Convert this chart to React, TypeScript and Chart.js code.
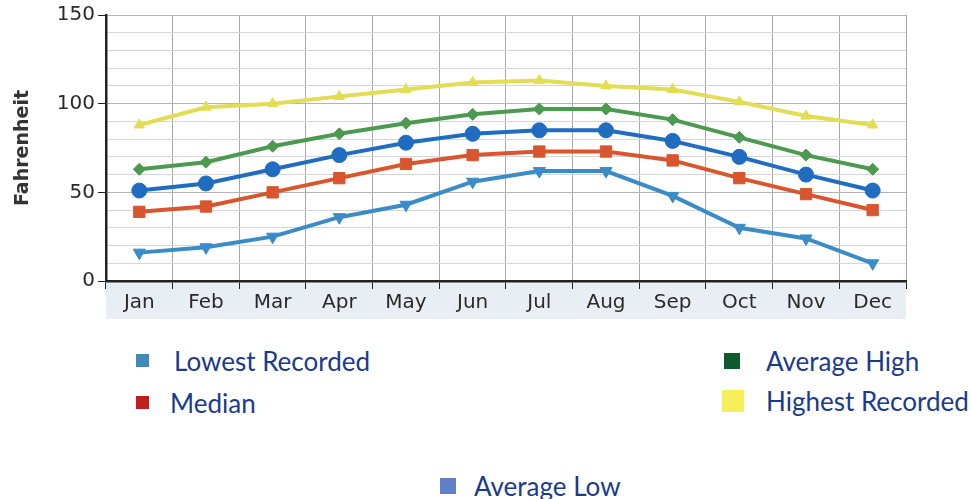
import React, { useEffect, useRef } from "react";
import { Chart, registerables } from "chart.js";

Chart.register(...registerables);

const months = ["Jan", "Feb", "Mar", "Apr", "May", "Jun", "Jul", "Aug", "Sep", "Oct", "Nov", "Dec"];
const highestRecorded = [88, 98, 100, 104, 108, 112, 113, 110, 108, 101, 93, 88];
const averageHigh = [63, 67, 76, 83, 89, 94, 97, 97, 91, 81, 71, 63];
const averageLow = [51, 55, 63, 71, 78, 83, 85, 85, 79, 70, 60, 51];
const median = [39, 42, 50, 58, 66, 71, 73, 73, 68, 58, 49, 40];
const lowestRecorded = [16, 19, 25, 36, 43, 56, 62, 62, 48, 30, 24, 10];
const yTickLabels = [0, 50, 100, 150];

const legendItems = [
  { label: "Lowest Recorded", color: "#3e8ab8", left: 136, top: 354, size: 13, textLeft: 174 },
  { label: "Median", color: "#c0201c", left: 136, top: 396, size: 13, textLeft: 170 },
  { label: "Average High", color: "#0e5a2c", left: 724, top: 353, size: 16, textLeft: 766 },
  { label: "Highest Recorded", color: "#f7ef5a", left: 722, top: 390, size: 22, textLeft: 766 },
  { label: "Average Low", color: "#5d80c6", left: 440, top: 478, size: 16, textLeft: 474 },
];

const bandPlugin = {
  id: "band",
  beforeDraw(chart: any) {
    const { ctx, chartArea } = chart;
    ctx.save();
    ctx.fillStyle = "#e9eef5";
    ctx.fillRect(chartArea.left, chartArea.bottom, chartArea.right - chartArea.left, 38);
    ctx.fillStyle = "#ffffff";
    ctx.fillRect(chartArea.left, chartArea.top, chartArea.right - chartArea.left, chartArea.bottom - chartArea.top);
    ctx.restore();
  },
};

export default function App() {
  const ref = useRef<HTMLCanvasElement>(null);
  useEffect(() => {
    if (!ref.current) return;
    const mk = (label: string, data: number[], color: string, style: any, radius: number, rotation = 0) => ({
      label,
      data,
      borderColor: color,
      backgroundColor: color,
      borderWidth: 4,
      pointStyle: style,
      pointRadius: radius,
      pointRotation: rotation,
      pointBorderWidth: 1,
      tension: 0,
    });
    const chart = new Chart(ref.current, {
      type: "line",
      data: {
        labels: months,
        datasets: [
          mk("Lowest Recorded", lowestRecorded, "#3b8cc6", "triangle", 7, 180),
          mk("Median", median, "#d9552e", "rect", 8),
          mk("Average Low", averageLow, "#1f6cc0", "circle", 7.5),
          mk("Average High", averageHigh, "#4c9a50", "rectRot", 6),
          mk("Highest Recorded", highestRecorded, "#e2dd55", "triangle", 6),
        ],
      },
      options: {
        animation: false,
        responsive: true,
        maintainAspectRatio: false,
        layout: { padding: { left: 12, top: 7, right: 8, bottom: 8 } },
        plugins: { legend: { display: false }, tooltip: { enabled: false } },
        scales: {
          x: {
            offset: true,
            grid: { offset: true, color: "#a8a8a8", lineWidth: 1, tickColor: "#222", tickLength: 8 },
            border: { color: "#222", width: 2.5 },
            ticks: { color: "#2a2a2a", font: { family: "DejaVu Sans", size: 20 }, padding: 2 },
          },
          y: {
            min: 0,
            max: 150,
            grid: {
              color: (c: any) => (c.tick && c.tick.value % 50 === 0 ? "#b4b4b4" : "#d6d6d6"),
              tickColor: (c: any) => (c.tick && yTickLabels.includes(c.tick.value) ? "#222" : "rgba(0,0,0,0)"),
              tickLength: 8,
            },
            border: { color: "#222", width: 2.5 },
            ticks: {
              stepSize: 10,
              autoSkip: false,
              color: "#2a2a2a",
              font: { family: "DejaVu Sans", size: 20 },
              padding: 3,
              callback: (v: any) => (yTickLabels.includes(Number(v)) ? String(v) : ""),
            },
            title: {
              display: true,
              text: "Fahrenheit",
              color: "#333",
              font: { family: "DejaVu Sans", size: 19, weight: "bold" },
              padding: { top: 0, bottom: 19 },
            },
          },
        },
      },
      plugins: [bandPlugin],
    });
    return () => chart.destroy();
  }, []);

  return (
    <div style={{ position: "absolute", left: 0, top: 0, width: 971, height: 499, background: "#fff", overflow: "hidden" }}>
      <div style={{ position: "absolute", left: 0, top: 0, width: 915, height: 325 }}>
        <canvas ref={ref} />
      </div>
      {legendItems.map((it) => (
        <React.Fragment key={it.label}>
          <div
            style={{
              position: "absolute",
              left: it.left,
              top: it.top,
              width: it.size,
              height: it.size,
              background: it.color,
            }}
          />
          <div
            style={{
              position: "absolute",
              left: it.textLeft,
              top: it.top + it.size / 2 - 16,
              height: 32,
              lineHeight: "32px",
              fontFamily: "Lato, 'Open Sans', sans-serif",
              fontSize: 26,
              color: "#1c3a8c",
              whiteSpace: "nowrap",
            }}
          >
            {it.label}
          </div>
        </React.Fragment>
      ))}
    </div>
  );
}
